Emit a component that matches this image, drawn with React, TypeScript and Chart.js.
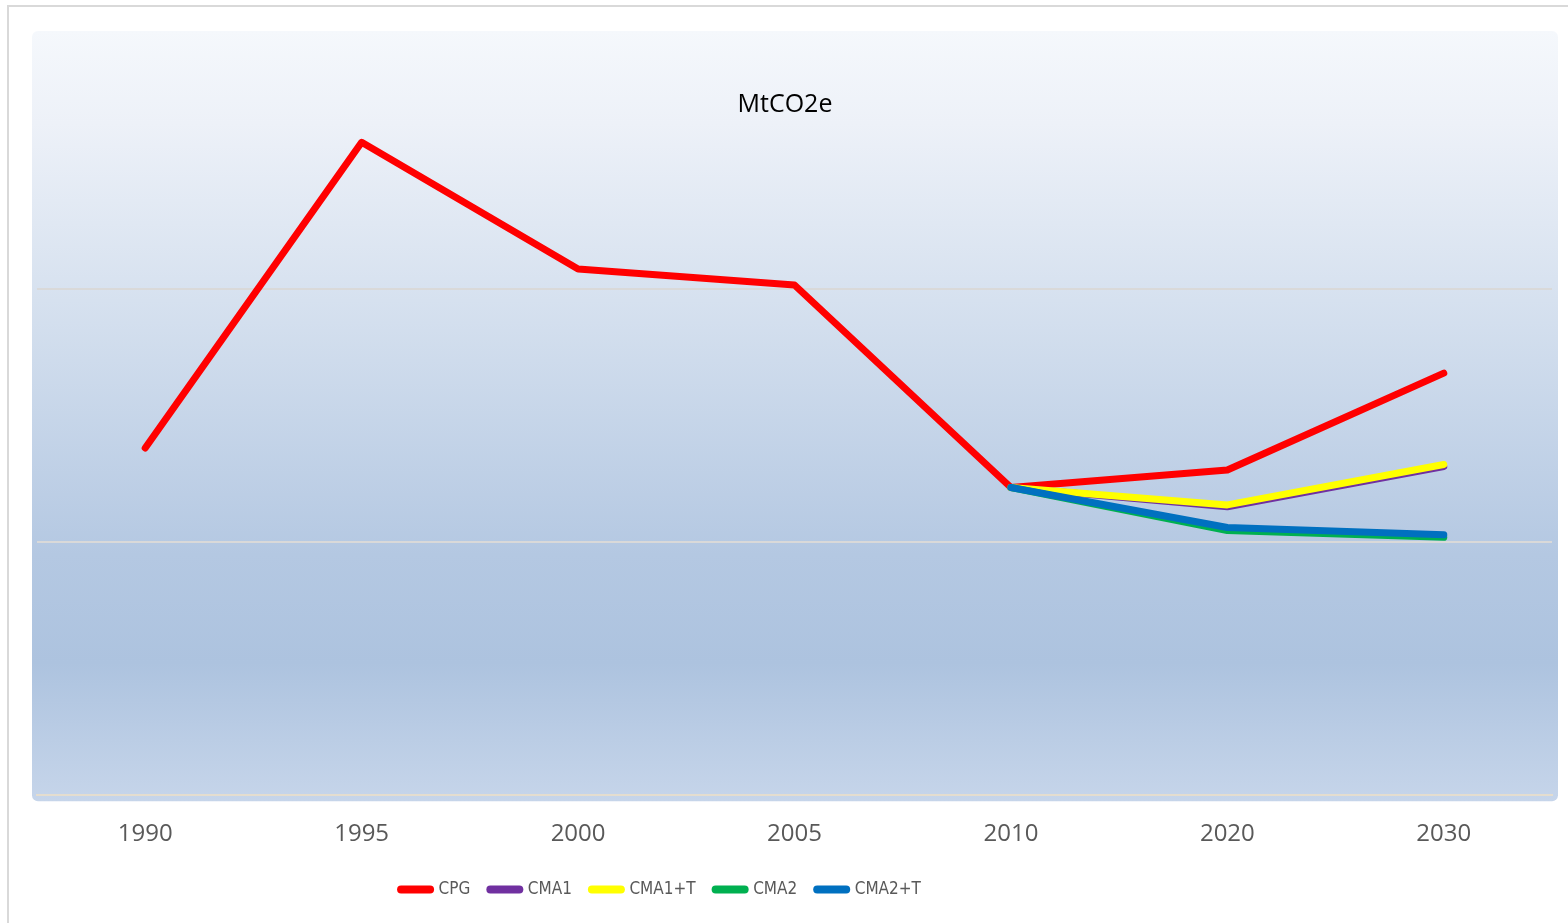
import React, { useEffect, useRef } from "react";
import { Chart, registerables } from "chart.js";

Chart.register(...registerables);

const years = ["1990", "1995", "2000", "2005", "2010", "2020", "2030"];
const cpg = [137.2, 258.0, 207.9, 201.6, 121.6, 128.5, 166.8];
const cma1 = [null, null, null, null, 121.6, 114.0, 129.9];
const cma1t = [null, null, null, null, 121.6, 114.7, 130.7];
const cma2 = [null, null, null, null, 121.6, 104.6, 101.9];
const cma2t = [null, null, null, null, 121.6, 105.8, 102.9];
const seriesNames = ["CPG", "CMA1", "CMA1+T", "CMA2", "CMA2+T"];
const seriesColors = ["#ff0000", "#7030a0", "#ffff00", "#00b050", "#0070c0"];
const seriesValues = [cpg, cma1, cma1t, cma2, cma2t];
const yMin = 0;
const yMax = 300;
const yStep = 100;
const titleText = "MtCO2e";

const LEGEND_CENTER = 661;
const LEGEND_TOP = 861;

const plotBackground = {
  id: "plotBackground",
  beforeDraw(chart: any) {
    const { ctx, chartArea } = chart;
    const x0 = chartArea.left - 5;
    const x1 = chartArea.right + 6;
    const y0 = chartArea.top - 5;
    const y1 = chartArea.bottom + 6;
    const g = ctx.createLinearGradient(0, y0, 0, y1);
    g.addColorStop(0, "#f5f8fc");
    g.addColorStop(0.12, "#edf1f8");
    g.addColorStop(0.35, "#d6e1ef");
    g.addColorStop(0.68, "#b4c8e2");
    g.addColorStop(0.82, "#adc3df");
    g.addColorStop(1, "#c6d5ea");
    ctx.save();
    ctx.fillStyle = g;
    ctx.beginPath();
    if (ctx.roundRect) ctx.roundRect(x0, y0, x1 - x0, y1 - y0, 6);
    else ctx.rect(x0, y0, x1 - x0, y1 - y0);
    ctx.fill();
    ctx.restore();
  },
  beforeDatasetsDraw(chart: any) {
    const { ctx, chartArea } = chart;
    ctx.save();
    ctx.fillStyle = "#000000";
    ctx.font = "25px 'Open Sans'";
    ctx.textAlign = "center";
    ctx.textBaseline = "middle";
    ctx.fillText(titleText, chartArea.left + chartArea.width * 0.4937, chartArea.top + 69);
    ctx.restore();
  },
};

const legendShift = {
  id: "legendShift",
  afterLayout(chart: any) {
    const lg = chart.legend;
    if (lg) {
      const w = lg.right - lg.left;
      const h = lg.bottom - lg.top;
      lg.left = LEGEND_CENTER - w / 2;
      lg.right = lg.left + w;
      lg.top = LEGEND_TOP;
      lg.bottom = LEGEND_TOP + h;
    }
  },
};

export default function App() {
  const ref = useRef<HTMLCanvasElement | null>(null);
  useEffect(() => {
    if (!ref.current) return;
    const chart = new Chart(ref.current, {
      type: "line",
      data: {
        labels: years,
        datasets: seriesNames.map((name, i) => ({
          label: name,
          data: seriesValues[i],
          borderColor: seriesColors[i],
          backgroundColor: seriesColors[i],
          borderWidth: 7,
          borderCapStyle: "round",
          borderJoinStyle: "round",
          pointRadius: 0,
          pointHoverRadius: 0,
          fill: false,
          tension: 0,
          order: 5 - i,
        })) as any,
      },
      options: {
        animation: false,
        responsive: false,
        events: [],
        layout: { padding: { left: 37, right: 16, top: 36, bottom: 2 } },
        plugins: {
          title: { display: false },
          tooltip: { enabled: false },
          legend: {
            display: true,
            position: "bottom",
            labels: {
              usePointStyle: true,
              pointStyle: "line",
              pointStyleWidth: 29,
              boxHeight: 8,
              padding: 20,
              color: "#595959",
              font: { family: "'Liberation Sans Narrow', 'DejaVu Sans Condensed', 'Open Sans', sans-serif", size: 17 },
              sort: (a: any, b: any) => a.datasetIndex - b.datasetIndex,
              generateLabels: (chart: any) => {
                const items = Chart.defaults.plugins.legend.labels.generateLabels(chart);
                return items.map((it: any) => ({
                  ...it,
                  lineCap: "round",
                  lineWidth: 8,
                  strokeStyle: seriesColors[it.datasetIndex],
                  fillStyle: seriesColors[it.datasetIndex],
                  pointStyle: "line",
                }));
              },
            },
          },
        },
        scales: {
          x: {
            offset: true,
            grid: { display: false, drawTicks: false },
            border: { display: true, color: "#e4ddcf", width: 2 },
            ticks: {
              color: "#595959",
              padding: 25,
              font: { family: "'Open Sans'", size: 24 },
            },
          },
          y: {
            min: yMin,
            max: yMax,
            ticks: { display: false, stepSize: yStep },
            border: { display: false },
            grid: {
              drawTicks: false,
              lineWidth: 2,
              color: (c: any) =>
                c.tick && c.tick.value > yMin && c.tick.value < yMax ? "#d9d9d9" : "rgba(0,0,0,0)",
            },
          },
        },
      },
      plugins: [plotBackground, legendShift],
    });
    return () => chart.destroy();
  }, []);

  return (
    <div style={{ position: "fixed", left: 0, top: 0, width: 1568, height: 923, background: "#ffffff", overflow: "hidden" }}>
      <div
        style={{
          position: "absolute",
          left: 7,
          top: 5,
          width: 1700,
          height: 1100,
          borderLeft: "2px solid #d9d9d9",
          borderTop: "2px solid #d9d9d9",
        }}
      />
      <canvas ref={ref} width={1568} height={923} style={{ position: "absolute", left: 0, top: 0 }} />
    </div>
  );
}
